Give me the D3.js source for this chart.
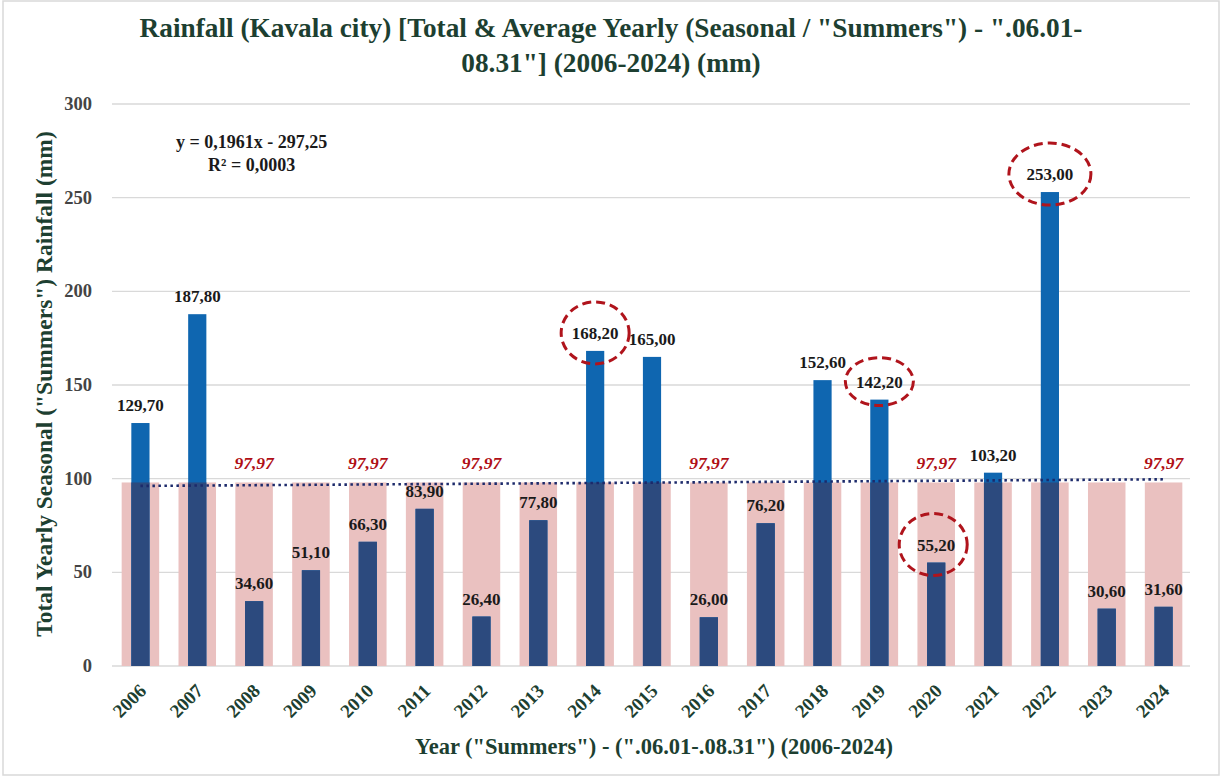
<!DOCTYPE html>
<html>
<head>
<meta charset="utf-8">
<script src="https://cdn.jsdelivr.net/npm/d3@7"></script>
<style>
  body { margin: 0; background: #fff; }
  svg { display: block; font-family: "Liberation Serif", "DejaVu Serif", serif; }
</style>
</head>
<body>
<svg id="chart" width="1222" height="776"></svg>
<script>
// years on the x axis
const years = ["2006","2007","2008","2009","2010","2011","2012","2013","2014","2015",
  "2016","2017","2018","2019","2020","2021","2022","2023","2024"];
// total seasonal rainfall (mm)
const rainfall = [129.7,187.8,34.6,51.1,66.3,83.9,26.4,77.8,168.2,165.0,
  26.0,76.2,152.6,142.2,55.2,103.2,253.0,30.6,31.6];
// average for the period
const average = 97.97;
// years where the average label is written
const avgLabelYears = ["2008","2010","2012","2016","2020","2024"];
// years circled in red
const circledYears = ["2014","2019","2020","2022"];
// linear trend (x = year)
const trendSlope = 0.1961, trendIntercept = -297.25;
const yTicks = [0,50,100,150,200,250,300];

const svg = d3.select("#chart");
const margin = {left: 112, right: 30, top: 104, bottom: 110};
const W = 1222, H = 776;

const x = d3.scaleBand()
  .domain(years)
  .range([margin.left, W - margin.right])
  .paddingInner(0).paddingOuter(0);
const y = d3.scaleLinear().domain([0, 300]).range([H - margin.bottom, margin.top]);

const fmt = v => d3.format(".2f")(v).replace(".", ",");
const green = "#1d3f31";

// frame
svg.append("rect").attr("x", 3).attr("y", 1).attr("width", W - 6).attr("height", H - 2)
  .attr("fill", "none").attr("stroke", "#d9d9d9").attr("stroke-width", 1.5);

// title
svg.append("text").attr("x", 611).attr("y", 37).attr("text-anchor", "middle")
  .attr("font-size", 27.3).attr("font-weight", "bold").attr("fill", green)
  .text("Rainfall (Kavala city) [Total & Average Yearly (Seasonal / \"Summers\") - \".06.01-");
svg.append("text").attr("x", 611).attr("y", 72).attr("text-anchor", "middle")
  .attr("font-size", 27.3).attr("font-weight", "bold").attr("fill", green)
  .text("08.31\"] (2006-2024) (mm)");

// gridlines
svg.append("g").selectAll("line").data(yTicks).enter().append("line")
  .attr("x1", margin.left).attr("x2", W - margin.right - 2)
  .attr("y1", d => y(d)).attr("y2", d => y(d))
  .attr("stroke", "#d9d9d9").attr("stroke-width", 1.3);

// y tick labels
svg.append("g").selectAll("text").data(yTicks).enter().append("text")
  .attr("x", 92).attr("y", d => y(d) + 6).attr("text-anchor", "end")
  .attr("font-size", 18.5).attr("font-weight", "bold").attr("fill", "#444")
  .text(d => d);

// average bars (pink)
const avgW = x.bandwidth() * 0.66;
svg.append("g").selectAll("rect").data(years).enter().append("rect")
  .attr("x", d => x(d) + (x.bandwidth() - avgW) / 2)
  .attr("y", y(average))
  .attr("width", avgW)
  .attr("height", y(0) - y(average))
  .attr("fill", "#eac1c0");

// rainfall bars: bright blue above the average, navy where they overlap it
const barW = x.bandwidth() * 0.32;
const bars = svg.append("g");
bars.selectAll("rect.hi").data(years).enter().append("rect")
  .attr("class", "hi")
  .attr("x", d => x(d) + (x.bandwidth() - barW) / 2)
  .attr("y", (d, i) => y(rainfall[i]))
  .attr("width", barW)
  .attr("height", (d, i) => y(0) - y(rainfall[i]))
  .attr("fill", "#0f66b0");
bars.selectAll("rect.lo").data(years).enter().append("rect")
  .attr("class", "lo")
  .attr("x", d => x(d) + (x.bandwidth() - barW) / 2)
  .attr("y", (d, i) => y(Math.min(rainfall[i], average)))
  .attr("width", barW)
  .attr("height", (d, i) => y(0) - y(Math.min(rainfall[i], average)))
  .attr("fill", "#2c4a7e");

// trend line (dotted)
const trend = d3.line().x(d => x(d) + x.bandwidth() / 2).y(d => y(trendSlope * (+d) + trendIntercept));
svg.append("path").datum([years[0], years[years.length - 1]])
  .attr("d", trend).attr("fill", "none")
  .attr("stroke", "#1c2a6b").attr("stroke-width", 2.6)
  .attr("stroke-dasharray", "2.5,3.5");

// average labels
svg.append("g").selectAll("text").data(avgLabelYears).enter().append("text")
  .attr("x", d => x(d) + x.bandwidth() / 2).attr("y", y(average) - 13)
  .attr("text-anchor", "middle").attr("font-size", 17.5).attr("font-weight", "bold")
  .attr("font-style", "italic").attr("fill", "#b00f16")
  .text(fmt(average));

// value labels
svg.append("g").selectAll("text").data(years).enter().append("text")
  .attr("x", d => x(d) + x.bandwidth() / 2)
  .attr("y", (d, i) => y(rainfall[i]) - 12)
  .attr("text-anchor", "middle").attr("font-size", 17).attr("font-weight", "bold")
  .attr("fill", "#1a1a1a")
  .text((d, i) => fmt(rainfall[i]));

// red dashed circles around highlighted labels
svg.append("g").selectAll("ellipse").data(circledYears).enter().append("ellipse")
  .attr("cx", d => x(d) + x.bandwidth() / 2 - (d === "2020" ? 3 : 0))
  .attr("cy", d => y(rainfall[years.indexOf(d)]) - 18)
  .attr("rx", d => d === "2022" ? 41 : 34)
  .attr("ry", d => d === "2019" ? 24 : 31)
  .attr("fill", "none").attr("stroke", "#b0141c").attr("stroke-width", 3)
  .attr("stroke-dasharray", "9,5");

// x tick labels (rotated)
svg.append("g").selectAll("text").data(years).enter().append("text")
  .attr("transform", d => `translate(${x(d) + x.bandwidth() / 2 + 7},${y(0) + 26}) rotate(-45)`)
  .attr("text-anchor", "end").attr("font-size", 19).attr("font-weight", "bold")
  .attr("fill", green)
  .text(d => d);

// axis titles
svg.append("text").attr("x", 654).attr("y", 754).attr("text-anchor", "middle")
  .attr("font-size", 22.5).attr("font-weight", "bold").attr("fill", green)
  .text("Year (\"Summers\") - (\".06.01-.08.31\") (2006-2024)");
svg.append("text").attr("transform", "translate(52,384) rotate(-90)")
  .attr("text-anchor", "middle").attr("font-size", 23.5).attr("font-weight", "bold")
  .attr("fill", green)
  .text("Total Yearly Seasonal (\"Summers\") Rainfall (mm)");

// trend equation
svg.append("text").attr("x", 176).attr("y", 148).attr("font-size", 18).attr("font-weight", "bold")
  .attr("fill", "#1a1a1a").text("y = 0,1961x - 297,25");
svg.append("text").attr("x", 208).attr("y", 171).attr("font-size", 18).attr("font-weight", "bold")
  .attr("fill", "#1a1a1a").text("R² = 0,0003");
</script>
</body>
</html>
